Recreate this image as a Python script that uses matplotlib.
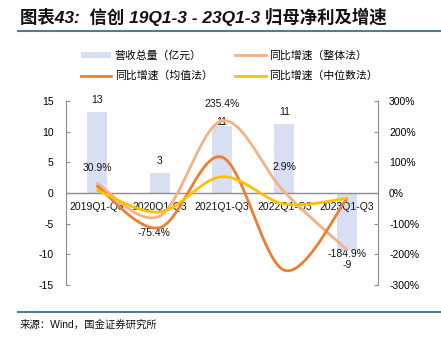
import numpy as np
import matplotlib
matplotlib.use("Agg")
import matplotlib.pyplot as plt
from matplotlib.lines import Line2D
from matplotlib.patches import Patch

plt.rcParams['font.family'] = ['Liberation Sans', 'Noto Sans CJK SC', 'DejaVu Sans']
plt.rcParams['axes.unicode_minus'] = False

# Data
periods = ["2019Q1-Q3", "2020Q1-Q3", "2021Q1-Q3", "2022Q1-Q3", "2023Q1-Q3"]
revenue = [13.2, 3.3, 11.0, 11.2, -9.4]            # 营收总量（亿元）
growth_overall = [30.9, -75.4, 235.4, 2.9, -184.9]  # 整体法, %
growth_mean = [22.0, -113.0, 117.0, -252.0, -20.0]  # 均值法, %
growth_median = [9.0, -62.0, 53.0, -36.0, -17.0]    # 中位数法, %

BAR_COLOR = "#D9DFF2"
C_OVERALL = "#F4B183"
C_MEAN = "#ED7D31"
C_MEDIAN = "#FFC000"
RULE_COLOR = "#4F7C9C"
SPINE_COLOR = "#8C8C8C"
CJK = ['Noto Sans CJK SC', 'DejaVu Sans']


def smooth(x, y, n=40):
    """Catmull-Rom spline through the points (like a smoothed office chart line)."""
    x = np.asarray(x, float)
    y = np.asarray(y, float)
    px = np.concatenate([[x[0]], x, [x[-1]]])
    py = np.concatenate([[y[0]], y, [y[-1]]])
    xs, ys = [], []
    t = np.linspace(0, 1, n)
    for i in range(1, len(px) - 2):
        p0, p1, p2, p3 = (np.array([px[j], py[j]]) for j in range(i - 1, i + 3))
        c1 = p1 + (p2 - p0) / 6
        c2 = p2 - (p3 - p1) / 6
        b = ((1 - t) ** 3)[:, None] * p1 + (3 * (1 - t) ** 2 * t)[:, None] * c1 \
            + (3 * (1 - t) * t ** 2)[:, None] * c2 + (t ** 3)[:, None] * p2
        xs.append(b[:, 0])
        ys.append(b[:, 1])
    return np.concatenate(xs), np.concatenate(ys)


fig = plt.figure(figsize=(4.41, 3.37), dpi=100)
W, H = 441, 337

ax = fig.add_axes([66 / W, 1 - 285 / H, (378 - 66) / W, (285 - 101) / H])
ax2 = ax.twinx()

x = np.arange(len(periods))
ax.bar(x, revenue, width=0.32, color=BAR_COLOR, zorder=1)
ax.set_xlim(-0.5, len(periods) - 0.5)
ax.set_ylim(-15, 15)
ax.set_yticks([-15, -10, -5, 0, 5, 10, 15])
ax.axhline(0, color=SPINE_COLOR, lw=1.0, zorder=2)

# bar value labels
bar_offsets = [12, 12, 4, 12, -14]
for xi, v, off in zip(x, revenue, bar_offsets):
    ax.annotate(f"{v:.0f}", (xi, v), xytext=(0, off * 0.72), textcoords="offset points",
                ha="center", va="center", fontsize=7.5, color="#111111")

for s in ["top", "bottom"]:
    ax.spines[s].set_visible(False)
    ax2.spines[s].set_visible(False)
ax2.spines["left"].set_visible(False)
ax.spines["right"].set_visible(False)
ax.spines["left"].set_color(SPINE_COLOR)
ax2.spines["right"].set_color(SPINE_COLOR)
ax.tick_params(axis="y", direction="in", length=3, color=SPINE_COLOR, labelsize=7.5, pad=9)
ax2.tick_params(axis="y", direction="in", length=3, color=SPINE_COLOR, labelsize=7.5, pad=8)

# category labels sit right under the zero line
ax.set_xticks(x)
ax.set_xticklabels([])
ax.tick_params(axis="x", length=0)
for xi, lab in zip(x, periods):
    ax.annotate(lab, (xi, 0), xytext=(0, -10), textcoords="offset points",
                ha="center", va="center", fontsize=7.5, color="#111111", zorder=6)

ax2.set_ylim(-300, 300)
ax2.set_yticks([-300, -200, -100, 0, 100, 200, 300])
ax2.set_yticklabels([f"{v}%" for v in [-300, -200, -100, 0, 100, 200, 300]])

for series, col in [(growth_overall, C_OVERALL), (growth_mean, C_MEAN), (growth_median, C_MEDIAN)]:
    sx, sy = smooth(x, series)
    ax2.plot(sx, sy, color=col, lw=2.0, solid_capstyle="round", zorder=4)

# labels for the overall-method growth
label_offsets = [(0, 16), (-6, -17), (0, 17), (0, 25), (0, -4)]
for xi, v, (dx, dy) in zip(x, growth_overall, label_offsets):
    ax2.annotate(f"{v:.1f}%", (xi, v), xytext=(dx * 0.72, dy * 0.72), textcoords="offset points",
                 ha="center", va="center", fontsize=7.5, color="#111111")

ax.set_zorder(ax2.get_zorder() - 1)
ax2.patch.set_visible(False)

# legend
handles = [
    Patch(facecolor=BAR_COLOR, edgecolor="none"),
    Line2D([], [], color=C_MEAN, lw=2.0),
    Line2D([], [], color=C_OVERALL, lw=2.0),
    Line2D([], [], color=C_MEDIAN, lw=2.0),
]
labels = ["营收总量（亿元）", "同比增速（均值法）", "同比增速（整体法）", "同比增速（中位数法）"]
fig.legend(handles, labels, ncol=2, loc="upper left", bbox_to_anchor=(81 / W, 1 - 50 / H),
           frameon=False, prop={"family": CJK, "size": 7.8}, handlelength=2.8, handleheight=0.45,
           handletextpad=0.3, columnspacing=2.1, labelspacing=0.95, borderpad=0, borderaxespad=0)

# title and rules
fig.text(20 / W, 1 - 17 / H, "图表43:  信创 19Q1-3 - 23Q1-3 归母净利及增速",
         fontsize=12.5, fontweight="bold", style="italic",
         family=['Liberation Sans', 'Noto Sans CJK SC'], va="center", ha="left", color="#111111")
fig.add_artist(Line2D([18 / W, 1], [1 - 31 / H, 1 - 31 / H], color=RULE_COLOR, lw=1.5))
fig.add_artist(Line2D([18 / W, 1], [1 - 312 / H, 1 - 312 / H], color=RULE_COLOR, lw=1.5))
fig.text(20 / W, 1 - 325 / H, "来源：Wind，国金证券研究所", fontsize=7.5,
         family=['Liberation Sans', 'Noto Sans CJK SC'], va="center", ha="left", color="#111111")

fig.savefig("out.png", dpi=100, facecolor="white")
